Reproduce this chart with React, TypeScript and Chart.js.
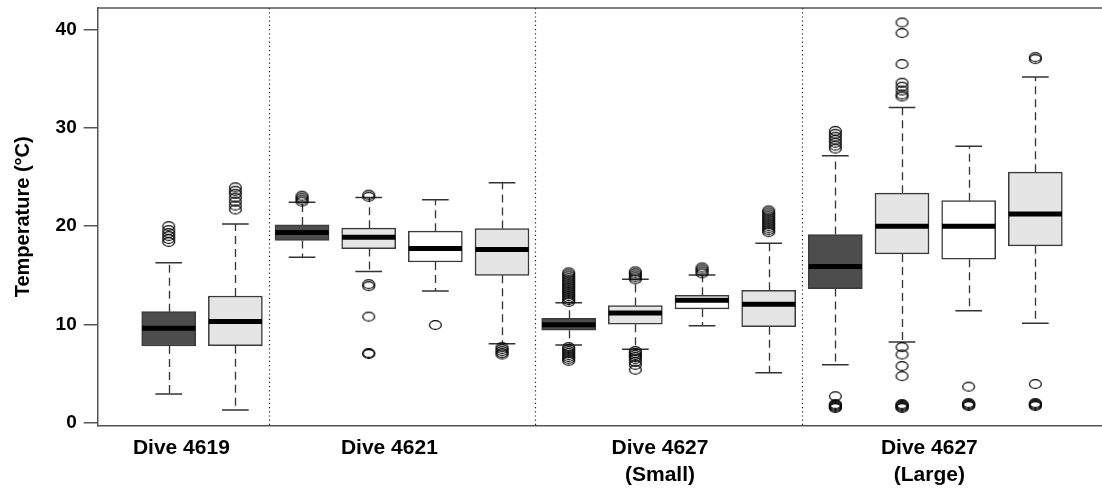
import React, { useEffect, useRef } from 'react';
import { Chart, registerables } from 'chart.js';

Chart.register(...registerables);

// Group labels on the x axis and where they sit
const groupLabels: string[][] = [['Dive 4619'], ['Dive 4621'], ['Dive 4627', '(Small)'], ['Dive 4627', '(Large)']];
const groupLabelPositions = [1.19, 4.31, 8.37, 12.41];
const groupDividers = [2.5, 6.5, 10.5];

// One entry per box
const boxPositions = [1, 2, 3, 4, 5, 6, 7, 8, 9, 10, 11, 12, 13, 14];
const boxShades = ['dark', 'light', 'dark', 'light', 'white', 'light', 'dark', 'light', 'white', 'light', 'dark', 'light', 'white', 'light'];
const lowerQuartile = [7.81, 7.84, 18.54, 17.72, 16.36, 15.0, 9.41, 10.02, 11.58, 9.78, 13.65, 17.18, 16.64, 18.0];
const medians = [9.61, 10.29, 19.35, 18.88, 17.72, 17.62, 9.98, 11.17, 12.46, 12.06, 15.89, 20.0, 20.0, 21.25];
const upperQuartile = [11.3, 12.9, 20.13, 19.8, 19.49, 19.76, 10.63, 11.92, 12.97, 13.48, 19.15, 23.36, 22.6, 25.5];
const whiskerLow = [2.92, 1.29, 16.84, 15.38, 13.41, 8.05, 7.91, 7.47, 9.88, 5.09, 5.91, 8.22, 11.4, 10.12];
const whiskerHigh = [16.29, 20.23, 22.44, 22.91, 22.68, 24.41, 12.22, 14.6, 15.04, 18.27, 27.16, 32.08, 28.14, 35.17];
const outliers: number[][] = [
  [18.4, 18.7, 19.0, 19.3, 19.6, 20.0],
  [21.7, 22.1, 22.5, 22.9, 23.3, 23.6, 23.95],
  [22.5, 22.7, 22.9, 23.1],
  [23.0, 23.2, 14.1, 13.9, 10.8, 7.1, 7.0],
  [9.95],
  [7.7, 7.5, 7.3, 7.1, 6.95],
  [12.3, 12.5, 12.7, 12.9, 13.1, 13.3, 13.5, 13.7, 13.9, 14.1, 14.3, 14.5, 14.7, 14.9, 15.1, 15.3,
    7.7, 7.5, 7.3, 7.1, 6.9, 6.7, 6.5, 6.3],
  [14.6, 14.8, 15.0, 15.2, 15.4, 7.3, 7.1, 6.9, 6.7, 6.5, 6.2, 5.9, 5.4],
  [15.2, 15.4, 15.6, 15.8],
  [19.4, 19.6, 19.8, 20.0, 20.2, 20.4, 20.6, 20.8, 21.0, 21.2, 21.4, 21.6],
  [27.9, 28.2, 28.5, 28.8, 29.1, 29.4, 29.7, 2.7, 1.9, 1.8, 1.7, 1.6, 1.5],
  [40.73, 39.65, 36.5, 34.6, 34.2, 33.8, 33.4, 33.2, 7.7, 6.95, 5.77, 4.75, 1.9, 1.8, 1.7, 1.6, 1.5],
  [3.67, 2.0, 1.9, 1.8, 1.7],
  [37.2, 37.0, 3.94, 2.0, 1.9, 1.8, 1.7],
];
const yTicks = [0, 10, 20, 30, 40];

const shadeColors: Record<string, string> = { dark: '#4d4d4d', light: '#e5e5e5', white: '#ffffff' };
const FONT = '"Liberation Sans", Arial, Helvetica, sans-serif';
const BOX_SPAN = 0.8;
const CAP_SPAN = 0.4;

// Open oval marker used for outlying points
function makeOvalMarker(): HTMLCanvasElement {
  const c = document.createElement('canvas');
  c.width = 15;
  c.height = 12;
  const g = c.getContext('2d')!;
  g.strokeStyle = '#000';
  g.lineWidth = 1.2;
  g.beginPath();
  g.ellipse(7.5, 6, 5.9, 4.4, 0, 0, Math.PI * 2);
  g.stroke();
  return c;
}

const boxPartsPlugin = {
  id: 'boxParts',
  beforeDatasetsDraw(chart: any) {
    const { ctx, chartArea, scales } = chart;
    const x = scales.x;
    const y = scales.y;
    ctx.save();
    // top edge of the frame
    ctx.strokeStyle = '#555';
    ctx.lineWidth = 1.5;
    ctx.beginPath();
    ctx.moveTo(chartArea.left, chartArea.top);
    ctx.lineTo(chartArea.right, chartArea.top);
    ctx.stroke();

    // dotted separators between dives
    ctx.strokeStyle = '#222';
    ctx.lineWidth = 1.2;
    ctx.setLineDash([1.2, 3]);
    groupDividers.forEach((p) => {
      const px = Math.round(x.getPixelForValue(p)) + 0.5;
      ctx.beginPath();
      ctx.moveTo(px, chartArea.top);
      ctx.lineTo(px, chartArea.bottom);
      ctx.stroke();
    });

    // whiskers and caps
    boxPositions.forEach((p, i) => {
      const cx = Math.round(x.getPixelForValue(p)) + 0.5;
      const capL = x.getPixelForValue(p - CAP_SPAN / 2);
      const capR = x.getPixelForValue(p + CAP_SPAN / 2);
      const yHi = y.getPixelForValue(whiskerHigh[i]);
      const yLo = y.getPixelForValue(whiskerLow[i]);
      const yQ3 = y.getPixelForValue(upperQuartile[i]);
      const yQ1 = y.getPixelForValue(lowerQuartile[i]);
      ctx.strokeStyle = '#333';
      ctx.lineWidth = 1.3;
      ctx.setLineDash([8, 5]);
      ctx.beginPath();
      ctx.moveTo(cx, yQ3);
      ctx.lineTo(cx, yHi);
      ctx.moveTo(cx, yQ1);
      ctx.lineTo(cx, yLo);
      ctx.stroke();
      ctx.setLineDash([]);
      ctx.lineWidth = 1.5;
      ctx.beginPath();
      ctx.moveTo(capL, yHi);
      ctx.lineTo(capR, yHi);
      ctx.moveTo(capL, yLo);
      ctx.lineTo(capR, yLo);
      ctx.stroke();
    });
    ctx.restore();
  },
  afterDatasetsDraw(chart: any) {
    const { ctx, scales } = chart;
    const x = scales.x;
    const y = scales.y;
    ctx.save();
    ctx.strokeStyle = '#000';
    ctx.lineWidth = 5;
    boxPositions.forEach((p, i) => {
      const l = x.getPixelForValue(p - BOX_SPAN / 2);
      const r = x.getPixelForValue(p + BOX_SPAN / 2);
      const my = y.getPixelForValue(medians[i]);
      ctx.beginPath();
      ctx.moveTo(l, my);
      ctx.lineTo(r, my);
      ctx.stroke();
    });
    ctx.restore();
  },
};

export default function App() {
  const canvasRef = useRef<HTMLCanvasElement | null>(null);

  useEffect(() => {
    document.body.style.margin = '0';
    const canvas = canvasRef.current;
    if (!canvas) return;
    const marker = makeOvalMarker();

    const boxData = boxPositions.map((p, i) => ({ x: p, y: [lowerQuartile[i], upperQuartile[i]] }));
    const outlierData: { x: number; y: number }[] = [];
    outliers.forEach((vals, i) => vals.forEach((v) => outlierData.push({ x: boxPositions[i], y: v })));

    const chart = new Chart(canvas, {
      type: 'bar',
      data: {
        datasets: [
          {
            type: 'bar',
            data: boxData as any,
            backgroundColor: boxShades.map((s) => shadeColors[s]),
            borderColor: '#3a3a3a',
            borderWidth: 1.5,
            borderSkipped: false,
            barThickness: 54,
            grouped: false,
          } as any,
          {
            type: 'scatter',
            data: outlierData,
            pointStyle: marker,
            pointRadius: 6,
            showLine: false,
          } as any,
        ],
      },
      options: {
        responsive: false,
        animation: false,
        events: [],
        layout: { autoPadding: false, padding: { top: 8, left: 0, right: 0, bottom: 0 } },
        plugins: {
          legend: { display: false },
          tooltip: { enabled: false },
        },
        scales: {
          x: {
            type: 'linear',
            min: -0.065,
            max: 15.0,
            offset: false,
            grid: { display: false, drawTicks: false, offset: false, tickLength: 0 },
            border: { display: true, color: '#555', width: 1.5 },
            afterBuildTicks: (scale: any) => {
              scale.ticks = groupLabelPositions.map((v) => ({ value: v }));
            },
            afterFit: (scale: any) => {
              scale.height = 63.3;
              scale.paddingLeft = 0;
              scale.paddingRight = 0;
            },
            ticks: {
              autoSkip: false,
              maxRotation: 0,
              padding: 9,
              color: '#000',
              font: { family: FONT, size: 21, weight: 'bold', lineHeight: 1.27 },
              callback: (_v: any, index: number) => groupLabels[index],
            },
          },
          y: {
            type: 'linear',
            min: -0.3,
            max: 42.2,
            grid: { display: true, drawOnChartArea: false, drawTicks: true, tickLength: 14, color: '#555', lineWidth: 1.5 },
            border: { display: true, color: '#555', width: 1.5 },
            afterBuildTicks: (scale: any) => {
              scale.ticks = yTicks.map((v) => ({ value: v }));
            },
            afterFit: (scale: any) => {
              scale.width = 97.7;
              scale.paddingTop = 0;
              scale.paddingBottom = 0;
            },
            ticks: {
              padding: 7,
              color: '#000',
              font: { family: FONT, size: 19, weight: 'bold' },
              callback: (v: any) => String(v),
            },
            title: {
              display: true,
              text: 'Temperature (°C)',
              color: '#000',
              font: { family: FONT, size: 20, weight: 'bold' },
              padding: { top: 11, bottom: 0 },
            },
          },
        },
      },
      plugins: [boxPartsPlugin],
    });

    return () => chart.destroy();
  }, []);

  return (
    <div style={{ width: 1102, height: 489, position: 'relative', background: '#fff' }}>
      <canvas ref={canvasRef} width={1102} height={489} />
    </div>
  );
}
